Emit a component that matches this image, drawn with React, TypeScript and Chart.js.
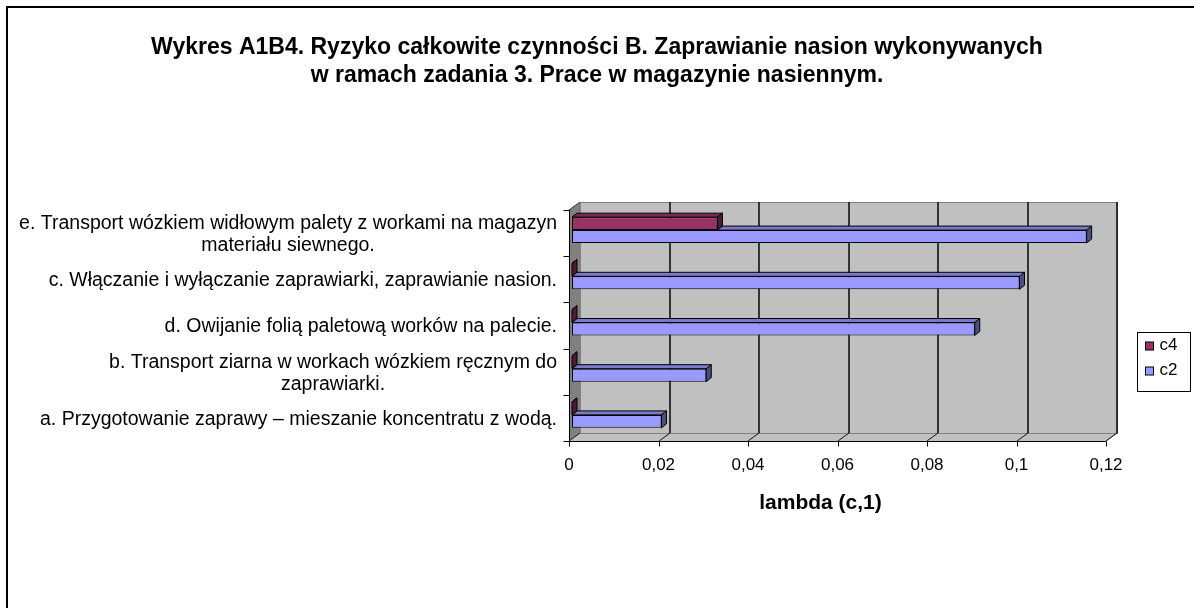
import React, { useEffect, useRef } from 'react';
import { Chart, registerables } from 'chart.js';

Chart.register(...registerables);

const FONT = "'Liberation Sans', Arial, Helvetica, sans-serif";

const titleLines = [
  'Wykres A1B4. Ryzyko całkowite czynności B. Zaprawianie nasion wykonywanych',
  'w ramach zadania 3. Prace w magazynie nasiennym.',
];
const categories: (string | string[])[] = [
  ['e. Transport wózkiem widłowym palety z workami na magazyn', 'materiału siewnego.'],
  'c. Włączanie i wyłączanie zaprawiarki, zaprawianie nasion.',
  'd. Owijanie folią paletową worków na palecie.',
  ['b. Transport ziarna w workach wózkiem ręcznym do', 'zaprawiarki.'],
  'a. Przygotowanie zaprawy – mieszanie koncentratu z wodą.',
];
const seriesNames = ['c4', 'c2'];
const c4Values = [0.0325, 0, 0, 0, 0];
const c2Values = [0.115, 0.1, 0.09, 0.03, 0.02];
const xTicks = [0, 0.02, 0.04, 0.06, 0.08, 0.1, 0.12];
const xAxisTitle = 'lambda (c,1)';

const seriesColors = ['#993366', '#9999FF'];
const seriesTop = ['#7A2952', '#7A7ACC'];
const seriesSide = ['#4D1A33', '#4D4D80'];

const fmt = (v: number) =>
  Number(v).toFixed(2).replace(/0+$/, '').replace(/\.$/, '').replace('.', ',');

const DX = 11;
const DY = -8;
const BAR_SHIFT_X = 3;
const BAR_SHIFT_Y = -3;
const BAR_DX = 5;
const BAR_DY = -4;

const excel3d = {
  id: 'excel3d',
  beforeDatasetsDraw(chart: any) {
    const { ctx, chartArea: a, scales } = chart;
    const x = scales.x;
    const y = scales.y;
    ctx.save();
    // left side wall
    ctx.fillStyle = '#808080';
    ctx.beginPath();
    ctx.moveTo(a.left, a.top);
    ctx.lineTo(a.left + DX, a.top + DY);
    ctx.lineTo(a.left + DX, a.bottom + DY);
    ctx.lineTo(a.left, a.bottom);
    ctx.closePath();
    ctx.fill();
    // floor
    ctx.fillStyle = '#C0C0C0';
    ctx.beginPath();
    ctx.moveTo(a.left, a.bottom);
    ctx.lineTo(a.left + DX, a.bottom + DY);
    ctx.lineTo(a.right + DX, a.bottom + DY);
    ctx.lineTo(a.right, a.bottom);
    ctx.closePath();
    ctx.fill();
    // back wall
    ctx.fillStyle = '#C0C0C0';
    ctx.fillRect(a.left + DX, a.top + DY, a.right - a.left, a.bottom - a.top);
    ctx.strokeStyle = '#808080';
    ctx.lineWidth = 1;
    ctx.strokeRect(a.left + DX + 0.5, a.top + DY + 0.5, a.right - a.left, a.bottom - a.top);
    ctx.beginPath();
    ctx.moveTo(a.right, a.bottom);
    ctx.lineTo(a.right + DX, a.bottom + DY);
    ctx.stroke();

    // gridlines on back wall + floor diagonals
    ctx.strokeStyle = '#111';
    xTicks.forEach((v) => {
      const px = Math.round(x.getPixelForValue(v));
      if (v !== 0) {
        ctx.lineWidth = 1.6;
        ctx.beginPath();
        ctx.moveTo(px + DX, a.top + DY);
        ctx.lineTo(px + DX, a.bottom + DY);
        ctx.stroke();
      }
      ctx.lineWidth = 1;
      ctx.beginPath();
      ctx.moveTo(px, a.bottom);
      ctx.lineTo(px + DX, a.bottom + DY);
      ctx.stroke();
    });
    // left wall top edge
    ctx.strokeStyle = '#333';
    ctx.beginPath();
    ctx.moveTo(a.left, a.top);
    ctx.lineTo(a.left + DX, a.top + DY);
    ctx.stroke();

    // axes
    ctx.strokeStyle = '#000';
    ctx.lineWidth = 1;
    const lx = Math.round(a.left) + 0.5;
    const by = Math.round(a.bottom) + 0.5;
    ctx.beginPath();
    ctx.moveTo(lx, a.top);
    ctx.lineTo(lx, by);
    ctx.moveTo(lx - 6, by);
    ctx.lineTo(a.right, by);
    ctx.stroke();
    xTicks.forEach((v) => {
      const px = Math.round(x.getPixelForValue(v)) + 0.5;
      ctx.beginPath();
      ctx.moveTo(px, by);
      ctx.lineTo(px, by + 5);
      ctx.stroke();
    });
    const n = categories.length;
    const band = (a.bottom - a.top) / n;
    for (let i = 0; i < n; i++) {
      const c = y.getPixelForValue(i);
      const yy = Math.round(c - band / 2) + 0.5;
      ctx.beginPath();
      ctx.moveTo(lx - 6, yy);
      ctx.lineTo(lx, yy);
      ctx.stroke();
    }
    ctx.restore();

    // 3D bar faces (behind front faces)
    ctx.save();
    ctx.translate(BAR_SHIFT_X, BAR_SHIFT_Y);
    ctx.lineWidth = 1;
    ctx.strokeStyle = '#000';
    ctx.lineJoin = 'round';
    for (let d = chart.data.datasets.length - 1; d >= 0; d--) {
      const meta = chart.getDatasetMeta(d);
      meta.data.forEach((el: any) => {
        const p = el.getProps(['x', 'y', 'base', 'height'], true);
        const top = p.y - p.height / 2;
        const bottom = p.y + p.height / 2;
        const left = Math.min(p.base, p.x);
        const right = Math.max(p.base, p.x);
        ctx.fillStyle = seriesTop[d];
        ctx.beginPath();
        ctx.moveTo(left, top);
        ctx.lineTo(left + BAR_DX, top + BAR_DY);
        ctx.lineTo(right + BAR_DX, top + BAR_DY);
        ctx.lineTo(right, top);
        ctx.closePath();
        ctx.fill();
        ctx.stroke();
        ctx.fillStyle = seriesSide[d];
        ctx.beginPath();
        ctx.moveTo(right, top);
        ctx.lineTo(right + BAR_DX, top + BAR_DY);
        ctx.lineTo(right + BAR_DX, bottom + BAR_DY);
        ctx.lineTo(right, bottom);
        ctx.closePath();
        ctx.fill();
        ctx.stroke();
      });
    }
  },
  afterDatasetsDraw(chart: any) {
    chart.ctx.restore();
  },
  afterDraw(chart: any) {
    const { ctx, chartArea: a, scales } = chart;
    const y = scales.y;
    ctx.save();
    ctx.fillStyle = '#000';
    ctx.textBaseline = 'middle';
    ctx.textAlign = 'center';
    // category labels
    ctx.font = `19.5px ${FONT}`;
    const lineH = 22;
    categories.forEach((lbl, i) => {
      const lines = Array.isArray(lbl) ? lbl : [lbl];
      const maxW = Math.max(...lines.map((l) => ctx.measureText(l).width));
      const right = a.left - 12;
      const cx = right - maxW / 2;
      const cy = y.getPixelForValue(i) + 1.5;
      lines.forEach((l, j) => {
        ctx.fillText(l, cx, cy + (j - (lines.length - 1) / 2) * lineH);
      });
    });
    // axis title
    ctx.font = `bold 21px ${FONT}`;
    ctx.fillText(xAxisTitle, (a.left + a.right) / 2 - 17, a.bottom + 62);
    // legend
    const bx = Math.round(a.right) + 31.5;
    const byy = 332.5;
    const bw = 53;
    const bh = 59;
    ctx.strokeStyle = '#000';
    ctx.lineWidth = 1;
    ctx.fillStyle = '#fff';
    ctx.fillRect(bx, byy, bw, bh);
    ctx.strokeRect(bx, byy, bw, bh);
    ctx.font = `17px ${FONT}`;
    ctx.textAlign = 'left';
    chart.data.datasets.forEach((ds: any, i: number) => {
      const ry = byy + 13 + i * 25;
      ctx.fillStyle = ds.backgroundColor;
      ctx.fillRect(bx + 8, Math.round(ry - 4), 8, 8);
      ctx.strokeRect(bx + 8, Math.round(ry - 4), 8, 8);
      ctx.fillStyle = '#000';
      ctx.fillText(ds.label, bx + 22, ry);
    });
    ctx.restore();
  },
};

export default function App() {
  const ref = useRef<HTMLCanvasElement | null>(null);
  useEffect(() => {
    if (!ref.current) return;
    const chart = new Chart(ref.current, {
      type: 'bar',
      data: {
        labels: categories.map((c) => (Array.isArray(c) ? c.join(' ') : c)),
        datasets: [
          {
            label: seriesNames[0],
            data: c4Values,
            backgroundColor: seriesColors[0],
            borderColor: '#000',
            borderWidth: 1,
            borderSkipped: false,
            barPercentage: 1,
            categoryPercentage: 0.56,
            inflateAmount: 0,
          },
          {
            label: seriesNames[1],
            data: c2Values,
            backgroundColor: seriesColors[1],
            borderColor: '#000',
            borderWidth: 1,
            borderSkipped: false,
            barPercentage: 1,
            categoryPercentage: 0.56,
            inflateAmount: 0,
          },
        ],
      },
      options: {
        responsive: false,
        animation: false,
        indexAxis: 'y',
        layout: { padding: { left: 0, right: 0, top: 0, bottom: 117 } },
        plugins: {
          legend: { display: false },
          tooltip: { enabled: false },
          title: {
            display: true,
            text: titleLines,
            color: '#000',
            font: { family: FONT, size: 23, weight: 'bold', lineHeight: 28 / 23 },
            padding: { top: 34, bottom: 120 },
          },
        },
        scales: {
          x: {
            type: 'linear',
            position: 'bottom',
            min: 0,
            max: 0.12,
            grid: { display: false, drawTicks: false },
            border: { display: false },
            ticks: {
              color: '#000',
              font: { family: FONT, size: 17 },
              padding: 14,
              autoSkip: false,
              maxRotation: 0,
              callback: (v: any) => fmt(Number(v)),
            },
            afterBuildTicks: (s: any) => {
              s.ticks = xTicks.map((v) => ({ value: v }));
            },
            afterFit: (s: any) => {
              s.height = 50;
            },
          },
          y: {
            type: 'category',
            position: 'left',
            grid: { display: false, drawTicks: false },
            border: { display: false },
            ticks: { display: false },
            afterFit: (s: any) => {
              s.width = 569;
            },
          },
          legendSpace: {
            axis: 'y',
            type: 'linear',
            position: 'right',
            grid: { display: false, drawTicks: false },
            border: { display: false },
            ticks: { display: false },
            afterFit: (s: any) => {
              s.width = 88;
            },
          },
        },
      } as any,
      plugins: [excel3d],
    });
    return () => chart.destroy();
  }, []);

  return (
    <div
      style={{
        position: 'fixed',
        left: 0,
        top: 0,
        width: 1194,
        height: 608,
        overflow: 'hidden',
        background: '#fff',
      }}
    >
      <div
        style={{
          position: 'absolute',
          left: 6,
          top: 6,
          width: 1400,
          height: 800,
          borderLeft: '2px solid #000',
          borderTop: '2px solid #000',
        }}
      />
      <canvas
        ref={ref}
        width={1194}
        height={608}
        style={{ position: 'absolute', left: 0, top: 0, width: 1194, height: 608 }}
      />
    </div>
  );
}
